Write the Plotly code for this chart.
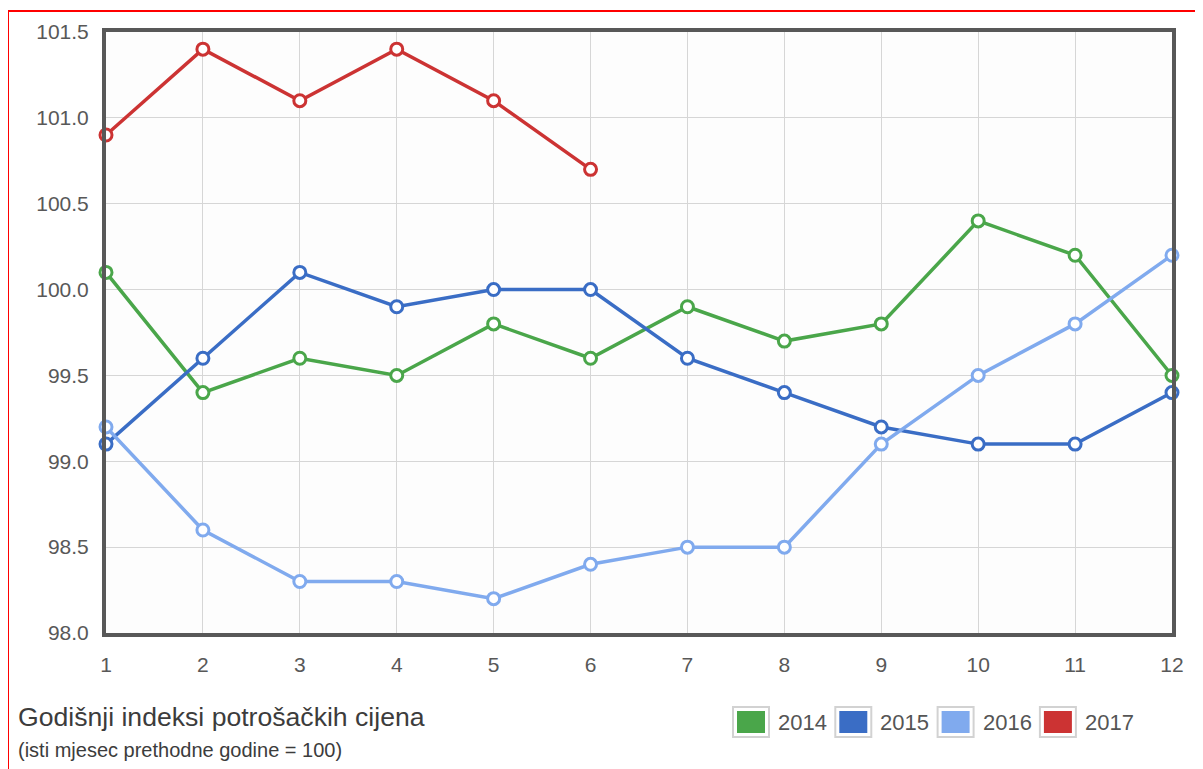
import plotly.graph_objects as go

months = [1, 2, 3, 4, 5, 6, 7, 8, 9, 10, 11, 12]
y2014 = [100.1, 99.4, 99.6, 99.5, 99.8, 99.6, 99.9, 99.7, 99.8, 100.4, 100.2, 99.5]
y2015 = [99.1, 99.6, 100.1, 99.9, 100.0, 100.0, 99.6, 99.4, 99.2, 99.1, 99.1, 99.4]
y2016 = [99.2, 98.6, 98.3, 98.3, 98.2, 98.4, 98.5, 98.5, 99.1, 99.5, 99.8, 100.2]
y2017 = [100.9, 101.4, 101.1, 101.4, 101.1, 100.7]
series_names = ["2014", "2015", "2016", "2017"]
series_values = [y2014, y2015, y2016, y2017]
colors = ["#4aa64a", "#3a6dc5", "#80aaee", "#cc3333"]
yticks = [98.0, 98.5, 99.0, 99.5, 100.0, 100.5, 101.0, 101.5]

# layout geometry (page pixels -> paper coords); page has 8px body offset
PL, PT, PW, PH = 106, 32, 1066, 601


def px(x):
    return (x - PL) / PW


def py(y):
    return (PT + PH - y) / PH


fig = go.Figure()
for name, vals, c in zip(series_names, series_values, colors):
    fig.add_trace(go.Scatter(
        x=months[:len(vals)], y=vals, mode="lines+markers", name=name,
        line=dict(color=c, width=3.5),
        marker=dict(symbol="circle", size=12, color="white", line=dict(color=c, width=3)),
        showlegend=False, cliponaxis=False,
    ))

shapes = [
    dict(type="line", xref="paper", yref="paper", x0=px(8), x1=px(8), y0=py(800), y1=py(11),
         line=dict(color="#ff0000", width=2)),
    dict(type="line", xref="paper", yref="paper", x0=px(8), x1=px(1250), y0=py(11), y1=py(11),
         line=dict(color="#ff0000", width=2)),
]
annotations = [
    dict(text="Godišnji indeksi potrošačkih cijena", xref="paper", yref="paper",
         x=px(16), y=py(717), xanchor="left", yanchor="middle", showarrow=False,
         font=dict(size=26.6, color="#3c3c3c")),
    dict(text="(isti mjesec prethodne godine = 100)", xref="paper", yref="paper",
         x=px(16), y=py(750), xanchor="left", yanchor="middle", showarrow=False,
         font=dict(size=20, color="#3c3c3c")),
]

# manual legend with large square swatches
leg_x0, leg_step = 733, 102.3
for i, (name, c) in enumerate(zip(series_names, colors)):
    x0 = leg_x0 + i * leg_step
    shapes.append(dict(type="rect", xref="paper", yref="paper",
                       x0=px(x0), x1=px(x0 + 36), y0=py(737), y1=py(707),
                       fillcolor="white", line=dict(color="#d2d2d2", width=2)))
    shapes.append(dict(type="rect", xref="paper", yref="paper",
                       x0=px(x0 + 4), x1=px(x0 + 32), y0=py(733), y1=py(711),
                       fillcolor=c, line=dict(width=0)))
    annotations.append(dict(text=name, xref="paper", yref="paper", x=px(x0 + 43), y=py(722),
                            xanchor="left", yanchor="middle", showarrow=False,
                            font=dict(size=22, color="#555555")))

fig.update_layout(
    width=1203, height=769,
    margin=dict(l=PL - 8, r=1203 - (PL - 8) - PW, t=PT - 8, b=769 - (PT - 8) - PH),
    paper_bgcolor="white", plot_bgcolor="#fdfdfd",
    font=dict(family="Arial, Liberation Sans, sans-serif", color="#555555", size=16),
    showlegend=False,
    xaxis=dict(range=[1, 12], tickvals=months, showgrid=True, gridcolor="#d6d6d6", gridwidth=1,
               showline=True, linecolor="#585858", linewidth=4, mirror=True, zeroline=False,
               ticks="", ticklabelstandoff=10, tickfont=dict(size=21, color="#585858")),
    yaxis=dict(range=[98.0, 101.5], tickvals=yticks, tickformat=".1f", showgrid=True,
               gridcolor="#d6d6d6", gridwidth=1, showline=True, linecolor="#585858",
               linewidth=4, mirror=True, zeroline=False, ticks="", ticklabelstandoff=9,
               tickfont=dict(size=21, color="#585858")),
    shapes=shapes,
    annotations=annotations,
)

fig.write_html("out.html")
